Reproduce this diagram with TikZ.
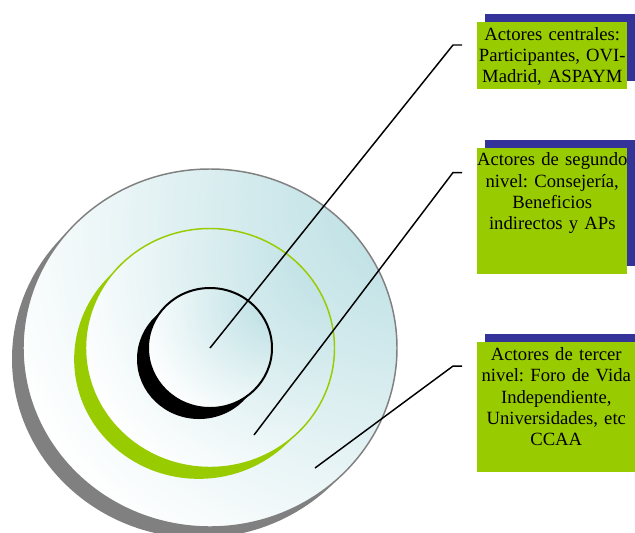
\documentclass[tikz,border=0pt]{standalone}
\usepackage{fontspec}
\setmainfont{Liberation Serif}
\usepackage{xcolor}
\usetikzlibrary{positioning}
\usetikzlibrary{shapes,shadows}
\usetikzlibrary{calc}

\definecolor{actorgreen}{RGB}{153,204,0}
\definecolor{actorblue}{RGB}{51,51,153}
\definecolor{ringgray}{RGB}{128,128,128}
\definecolor{discteal}{RGB}{189,224,228}
\pgfdeclareradialshading{discglow}{\pgfpoint{36bp}{26bp}}{color(0bp)=(discteal); color(10bp)=(discteal); color(48bp)=(white); color(100bp)=(white)}

\begin{document}
\frenchspacing
\begin{tikzpicture}[x=0.75pt,y=-0.75pt]
\tikzstyle{ring}=[ellipse, inner sep=0pt, shading=discglow]
\tikzstyle{actor}=[anchor=north west, fill=actorgreen, inner xsep=-3pt, inner ysep=0pt, align=center, text height=13.5pt, font=\fontsize{14}{16}\selectfont, general shadow={fill=actorblue, shadow xshift=6pt, shadow yshift=6pt}]
\tikzstyle{link}=[line width=1.1pt]

\useasboundingbox[fill=white] (0,0) rectangle (635,532);

% rings, from the outside in
\node[ring, draw=ringgray, line width=1.1pt, minimum width=280.5pt, minimum height=268.5pt,
  general shadow={fill=ringgray, shadow xshift=-8.25pt, shadow yshift=-8.25pt}] (ring2) at (210,348) {};
\node[ring, draw=actorgreen, line width=1.1pt, minimum width=186.75pt, minimum height=179.25pt,
  general shadow={fill=actorgreen, shadow xshift=-8.5pt, shadow yshift=-8.5pt}] (ring1) at (210,348) {};
\node[ring, draw=black, line width=1.5pt, minimum width=93pt, minimum height=90pt,
  general shadow={fill=black, shadow xshift=-8.25pt, shadow yshift=-8.25pt}] (ring0) at (210,348) {};

% width of each box = text width - 6pt
\node[actor, text width=118.5pt, text depth=36.75pt] (actor0) at (477,22)
  {Actores centrales:\\ Participantes, OVI-\\ Madrid, ASPAYM};
\node[actor, text width=118.5pt, text depth=81pt, below=43.5pt of actor0.south west, anchor=north west] (actor1)
  {Actores de segundo\\ nivel: Consejería,\\ Beneficios\\ indirectos y APs};
\node[actor, text width=124.5pt, text depth=84pt, below=51pt of actor1.south west, anchor=north west] (actor2)
  {Actores de tercer\\ nivel: Foro de Vida\\ Independiente,\\ Universidades, etc\\ CCAA};

\coordinate (dot1) at (254,435);
\coordinate (dot2) at (315,468);
\coordinate (tip0) at ($(actor0.north west)+(-15,23)$);
\coordinate (tip1) at ($(actor1.north west)+(-15,25)$);
\coordinate (tip2) at ($(actor2.north west)+(-15,24)$);

\draw[link] (ring0.center) -- ($(tip0)+(-9,0)$) -- (tip0);
\draw[link] (dot1) -- ($(tip1)+(-9,0)$) -- (tip1);
\draw[link] (dot2) -- ($(tip2)+(-9,0)$) -- (tip2);
\end{tikzpicture}
\end{document}
